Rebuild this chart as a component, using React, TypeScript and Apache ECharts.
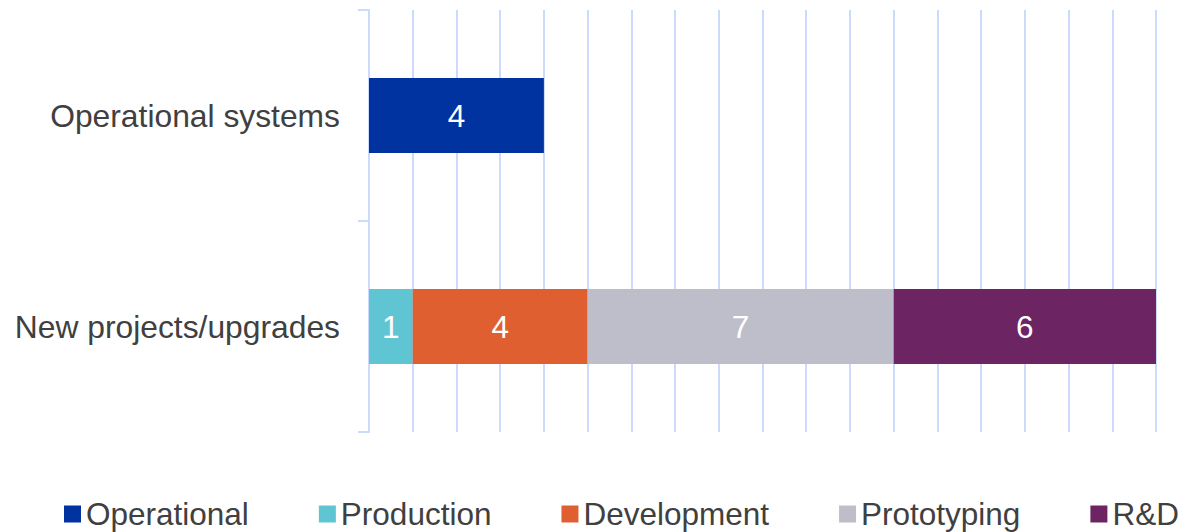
import React, { useEffect, useRef } from "react";
import * as echarts from "echarts";

const categories = ["New projects/upgrades", "Operational systems"];
const seriesNames = ["Operational", "Production", "Development", "Prototyping", "R&D"];
const operational = ["-", 4];
const production = [1, "-"];
const development = [4, "-"];
const prototyping = [7, "-"];
const rnd = [6, "-"];
const colors = ["#0033A0", "#5FC5D3", "#E05F31", "#BEBECA", "#6D2463"];

export default function App() {
  const ref = useRef<HTMLDivElement>(null);
  useEffect(() => {
    if (!ref.current) return;
    const chart = echarts.init(ref.current, null, { renderer: "svg" });
    const values = [operational, production, development, prototyping, rnd];
    const font = "Liberation Sans";
    const gridColor = "#CCDAFD";
    chart.setOption({
      animation: false,
      textStyle: { fontFamily: font },
      grid: { left: 369, right: 37, top: 10, bottom: 100, containLabel: false },
      legend: {
        left: 59,
        top: 493,
        itemWidth: 17,
        itemHeight: 17,
        itemGap: 70,
        icon: "rect",
        textStyle: { fontSize: 31.5, color: "#404040", fontFamily: font },
        data: seriesNames,
      },
      xAxis: {
        type: "value",
        min: 0,
        max: 18,
        interval: 1,
        axisLabel: { show: false },
        axisLine: { show: false },
        axisTick: { show: false },
        splitLine: { show: true, lineStyle: { color: gridColor, width: 2 } },
      },
      yAxis: {
        type: "category",
        data: categories,
        axisLine: { show: true, lineStyle: { color: gridColor, width: 2 } },
        axisTick: { show: true, length: 11, lineStyle: { color: gridColor, width: 2 } },
        axisLabel: { fontSize: 31.8, color: "#404040", margin: 29, fontFamily: font },
      },
      series: seriesNames.map((name, i) => ({
        name,
        type: "bar",
        stack: "total",
        barWidth: 75,
        data: values[i],
        itemStyle: { color: colors[i] },
        label: { show: true, position: "inside", color: "#FFFFFF", fontSize: 31.5, fontFamily: font },
      })),
    });
    return () => chart.dispose();
  }, []);
  return (
    <div
      ref={ref}
      style={{ position: "absolute", left: 0, top: 0, width: 1193, height: 532 }}
    />
  );
}
